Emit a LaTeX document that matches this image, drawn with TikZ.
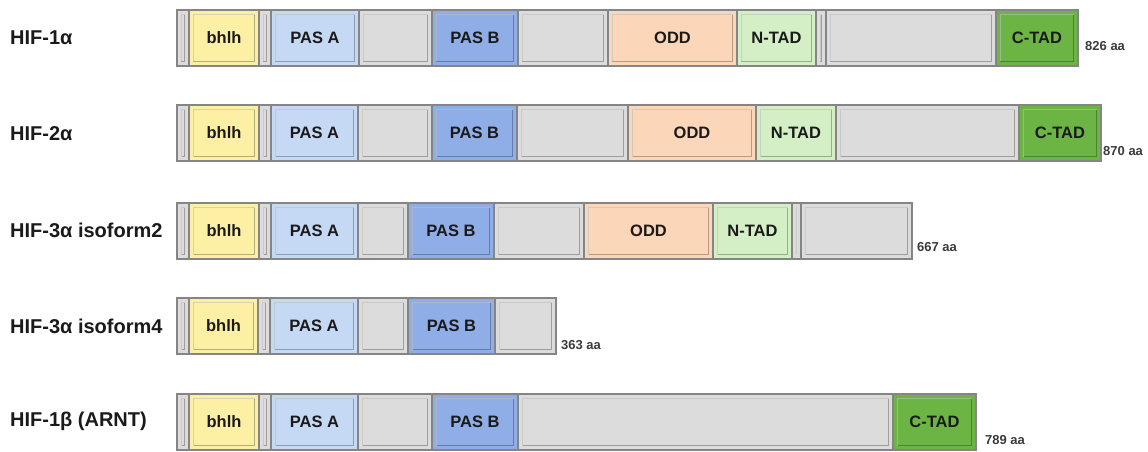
\documentclass[tikz,border=0pt]{standalone}
\usepackage{fontspec}
\setmainfont{Liberation Sans}
\definecolor{segedge}{HTML}{858585}
\definecolor{cbhlh}{HTML}{FDF0A4}
\definecolor{cpasa}{HTML}{C5D9F4}
\definecolor{cpasb}{HTML}{8FADE6}
\definecolor{cgray}{HTML}{DCDCDC}
\definecolor{codd}{HTML}{FCD6B8}
\definecolor{cntad}{HTML}{D4EFC5}
\definecolor{cctad}{HTML}{6CB545}
\definecolor{txt}{HTML}{1A1A1A}
\tikzset{
  segbox/.style={draw=segedge, line width=1.4pt, inner sep=0pt, outer sep=0pt,
    anchor=north west, minimum height=56pt, text=txt,
    font=\bfseries\fontsize{16.5}{16.5}\selectfont,
    path picture={
      \draw[black, opacity=0.28, line width=0.9pt]
        ([xshift=4.5pt,yshift=4.5pt]path picture bounding box.south west) rectangle
        ([xshift=-4.5pt,yshift=-4.5pt]path picture bounding box.north east);
      \draw[white, opacity=0.45, line width=0.9pt]
        ([xshift=4.5pt,yshift=4.5pt]path picture bounding box.south west) |-
        ([xshift=-4.5pt,yshift=-4.5pt]path picture bounding box.north east);
    }},
  rowlabel/.style={anchor=west, inner sep=0pt, text=txt, font=\bfseries\fontsize{20}{20}\selectfont},
  aalabel/.style={anchor=west, inner sep=0pt, text=txt!85, font=\bfseries\fontsize{13}{13}\selectfont}
}
\newcommand{\seg}[6]{\node[segbox, fill=#5, minimum width={#3-#2}] (#1) at (#2,#4) {#6};}
\begin{document}
\begin{tikzpicture}[x=1pt,y=-1pt]
\useasboundingbox[fill=white] (0,0) rectangle (1148,452);
% Row 1: HIF-1alpha
\node[rowlabel] (l1) at (10,38) {HIF-1α};
\seg{a1}{177}{189}{10}{cgray}{}
\seg{a2}{189}{259}{10}{cbhlh}{bhlh}
\seg{a3}{259}{271}{10}{cgray}{}
\seg{a4}{271}{359}{10}{cpasa}{PAS A}
\seg{a5}{359}{432}{10}{cgray}{}
\seg{a6}{432}{518}{10}{cpasb}{PAS B}
\seg{a7}{518}{608}{10}{cgray}{}
\seg{a8}{608}{737}{10}{codd}{ODD}
\seg{a9}{737}{816}{10}{cntad}{N-TAD}
\seg{a10}{816}{826}{10}{cgray}{}
\seg{a11}{826}{996}{10}{cgray}{}
\seg{a12}{996}{1078}{10}{cctad}{C-TAD}
\node[aalabel] (s1) at (1085,46) {826 aa};
% Row 2: HIF-2alpha
\node[rowlabel] (l2) at (10,134) {HIF-2α};
\seg{b1}{177}{189}{105}{cgray}{}
\seg{b2}{189}{259}{105}{cbhlh}{bhlh}
\seg{b3}{259}{271}{105}{cgray}{}
\seg{b4}{271}{358}{105}{cpasa}{PAS A}
\seg{b5}{358}{432}{105}{cgray}{}
\seg{b6}{432}{517}{105}{cpasb}{PAS B}
\seg{b7}{517}{628}{105}{cgray}{}
\seg{b8}{628}{756}{105}{codd}{ODD}
\seg{b9}{756}{836}{105}{cntad}{N-TAD}
\seg{b10}{836}{1019}{105}{cgray}{}
\seg{b11}{1019}{1101}{105}{cctad}{C-TAD}
\node[aalabel] (s2) at (1103,151) {870 aa};
% Row 3: HIF-3alpha isoform2
\node[rowlabel] (l3) at (10,230) {HIF-3α isoform2};
\seg{c1}{177}{189}{203}{cgray}{}
\seg{c2}{189}{259}{203}{cbhlh}{bhlh}
\seg{c3}{259}{271}{203}{cgray}{}
\seg{c4}{271}{358}{203}{cpasa}{PAS A}
\seg{c5}{358}{408}{203}{cgray}{}
\seg{c6}{408}{494}{203}{cpasb}{PAS B}
\seg{c7}{494}{584}{203}{cgray}{}
\seg{c8}{584}{713}{203}{codd}{ODD}
\seg{c9}{713}{792}{203}{cntad}{N-TAD}
\seg{c10}{792}{801}{203}{cgray}{}
\seg{c11}{801}{912}{203}{cgray}{}
\node[aalabel] (s3) at (917,247) {667 aa};
% Row 4: HIF-3alpha isoform4
\node[rowlabel] (l4) at (10,326) {HIF-3α isoform4};
\seg{d1}{177}{189}{298}{cgray}{}
\seg{d2}{189}{258}{298}{cbhlh}{bhlh}
\seg{d3}{258}{270}{298}{cgray}{}
\seg{d4}{270}{358}{298}{cpasa}{PAS A}
\seg{d5}{358}{408}{298}{cgray}{}
\seg{d6}{408}{495}{298}{cpasb}{PAS B}
\seg{d7}{495}{556}{298}{cgray}{}
\node[aalabel] (s4) at (561,345) {363 aa};
% Row 5: HIF-1beta (ARNT)
\node[rowlabel] (l5) at (10,421) {HIF-1β (ARNT)};
\seg{e1}{177}{189}{394}{cgray}{}
\seg{e2}{189}{259}{394}{cbhlh}{bhlh}
\seg{e3}{259}{271}{394}{cgray}{}
\seg{e4}{271}{358}{394}{cpasa}{PAS A}
\seg{e5}{358}{432}{394}{cgray}{}
\seg{e6}{432}{518}{394}{cpasb}{PAS B}
\seg{e7}{518}{893}{394}{cgray}{}
\seg{e8}{893}{976}{394}{cctad}{C-TAD}
\node[aalabel] (s5) at (985,440) {789 aa};
\end{tikzpicture}
\end{document}
